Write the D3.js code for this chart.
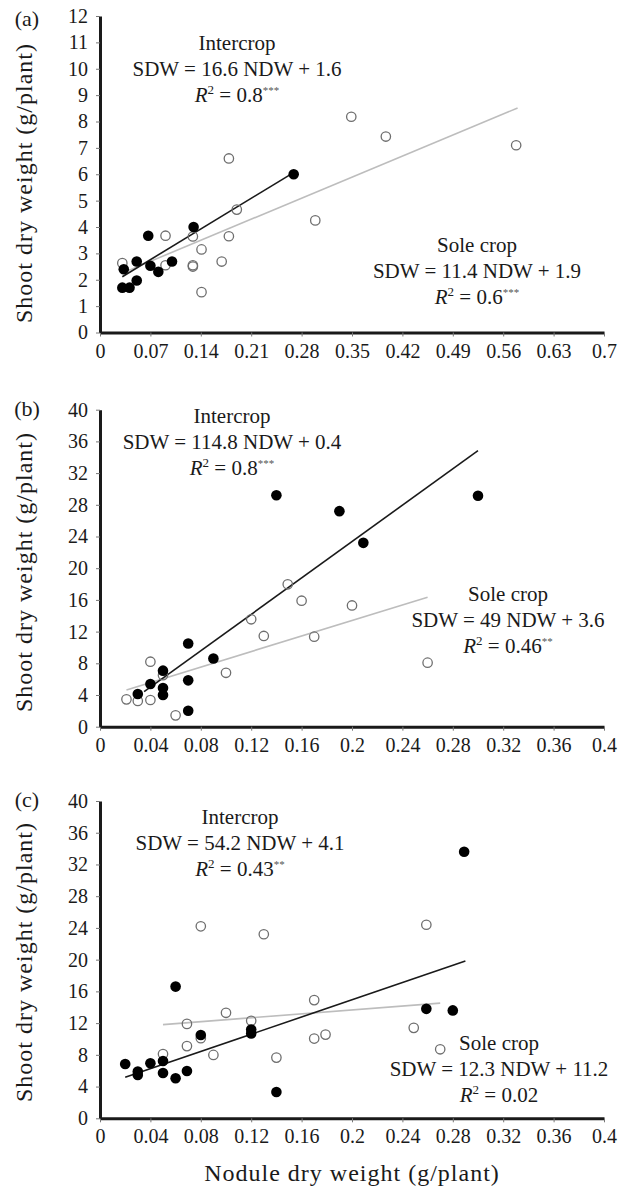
<!DOCTYPE html>
<html>
<head>
<meta charset="utf-8">
<script src="https://cdn.jsdelivr.net/npm/d3@7"></script>
<style>
  body { margin: 0; background: #fff; }
  svg { display: block; }
  text { font-family: "Liberation Serif", "Times New Roman", serif; fill: #1a1a1a; }
</style>
</head>
<body>
<div id="chart"></div>
<script>
const width = 624;
const height = 1189;

// panel (a): [NDW, SDW]
const interA = [[0.269, 6.0], [0.13, 4.0], [0.067, 3.67], [0.051, 2.69], [0.10, 2.69], [0.07, 2.53],
  [0.081, 2.30], [0.033, 2.40], [0.051, 1.97], [0.031, 1.70], [0.041, 1.70]];
const soleA = [[0.179, 6.6], [0.19, 4.66], [0.299, 4.25], [0.091, 3.67], [0.129, 3.64], [0.179, 3.65],
  [0.141, 3.15], [0.031, 2.63], [0.091, 2.55], [0.129, 2.55], [0.129, 2.5], [0.169, 2.69],
  [0.141, 1.53], [0.349, 8.18], [0.397, 7.43], [0.578, 7.1]];

// panel (b)
const interB = [[0.14, 29.2], [0.19, 27.2], [0.209, 23.2], [0.30, 29.15], [0.07, 10.5], [0.09, 8.6],
  [0.05, 7.07], [0.04, 5.39], [0.07, 5.85], [0.05, 4.88], [0.05, 4.0], [0.03, 4.13], [0.07, 2.02]];
const soleB = [[0.149, 17.97], [0.16, 15.9], [0.12, 13.55], [0.13, 11.45], [0.17, 11.36], [0.04, 8.2],
  [0.10, 6.8], [0.05, 6.5], [0.021, 3.45], [0.03, 3.24], [0.04, 3.37], [0.06, 1.43], [0.20, 15.3],
  [0.26, 8.08]];

// panel (c)
const interC = [[0.06, 16.6], [0.08, 10.5], [0.12, 11.2], [0.12, 10.7], [0.02, 6.85], [0.03, 5.9],
  [0.03, 5.46], [0.04, 6.94], [0.05, 7.23], [0.05, 5.72], [0.06, 5.05], [0.069, 5.97], [0.14, 3.32],
  [0.289, 33.6], [0.259, 13.8], [0.28, 13.6]];
const soleC = [[0.08, 24.2], [0.13, 23.2], [0.17, 14.9], [0.10, 13.3], [0.069, 11.9], [0.12, 12.3],
  [0.08, 10.1], [0.069, 9.1], [0.17, 10.05], [0.179, 10.55], [0.09, 7.99], [0.05, 8.1], [0.14, 7.65],
  [0.259, 24.4], [0.249, 11.4], [0.27, 8.7]];

// regression lines: [slope, intercept, xStart, xEnd]
const fitInter = [[16.6, 1.6, 0.031, 0.27], [114.8, 0.4, 0.035, 0.30], [54.2, 4.1, 0.02, 0.29]];
const fitSole = [[11.4, 1.9, 0.03, 0.58], [49, 3.6, 0.021, 0.26], [12.3, 11.2, 0.05, 0.27]];

// equation labels
const eqInter = ["SDW = 16.6 NDW + 1.6", "SDW = 114.8 NDW + 0.4", "SDW = 54.2 NDW + 4.1"];
const r2Inter = ["0.8", "0.8", "0.43"];
const starsInter = ["***", "***", "**"];
const eqSole = ["SDW = 11.4 NDW + 1.9", "SDW = 49 NDW + 3.6", "SDW = 12.3 NDW + 11.2"];
const r2Sole = ["0.6", "0.46", "0.02"];
const starsSole = ["***", "**", ""];

const panelLabels = ["(a)", "(b)", "(c)"];

// ticks
const xTicksA = [0, 0.07, 0.14, 0.21, 0.28, 0.35, 0.42, 0.49, 0.56, 0.63, 0.7];
const xTicksBC = [0, 0.04, 0.08, 0.12, 0.16, 0.2, 0.24, 0.28, 0.32, 0.36, 0.4];
const yTicksA = [0, 1, 2, 3, 4, 5, 6, 7, 8, 9, 10, 11, 12];
const yTicksBC = [0, 4, 8, 12, 16, 20, 24, 28, 32, 36, 40];

const panels = [
  { inter: interA, sole: soleA, xTicks: xTicksA, yTicks: yTicksA, top: 16, bottom: 332.5,
    interPos: [237, 49.5], solePos: [477, 252], labelY: 26, titleY: 183 },
  { inter: interB, sole: soleB, xTicks: xTicksBC, yTicks: yTicksBC, top: 409.7, bottom: 726.7,
    interPos: [232, 423], solePos: [508, 601], labelY: 416, titleY: 572 },
  { inter: interC, sole: soleC, xTicks: xTicksBC, yTicks: yTicksBC, top: 801, bottom: 1118.3,
    interPos: [240, 824], solePos: [499, 1050], labelY: 807, titleY: 962 }
];

const left = 100, right = 604;

const svg = d3.select("#chart")
  .append("svg")
  .attr("width", width)
  .attr("height", height);

function eqBlock(g, pos, title, eq, r2, stars) {
  const t = g.append("g").attr("text-anchor", "middle").attr("font-size", 21);
  t.append("text").attr("x", pos[0]).attr("y", pos[1]).text(title);
  t.append("text").attr("x", pos[0]).attr("y", pos[1] + 26).text(eq);
  const r = t.append("text").attr("x", pos[0]).attr("y", pos[1] + 52);
  r.append("tspan").attr("font-style", "italic").text("R");
  r.append("tspan").attr("font-size", 13).attr("dy", -8).text("2");
  r.append("tspan").attr("dy", 8).text(" = " + r2);
  if (stars) r.append("tspan").attr("font-size", 11).attr("dy", -8).attr("fill", "#555").text(stars);
}

panels.forEach((p, i) => {
  const g = svg.append("g");

  const x = d3.scaleLinear()
    .domain([0, d3.max(p.xTicks)])
    .range([left, right]);

  const y = d3.scaleLinear()
    .domain([0, d3.max(p.yTicks)])
    .range([p.bottom, p.top]);

  // X axis
  const xa = g.append("g")
    .attr("transform", `translate(0,${p.bottom})`)
    .call(d3.axisBottom(x).tickValues(p.xTicks).tickSize(4).tickSizeOuter(0).tickPadding(7)
      .tickFormat(d => String(d)));

  // Y axis
  const ya = g.append("g")
    .attr("transform", `translate(${left},0)`)
    .call(d3.axisLeft(y).tickValues(p.yTicks).tickSize(4).tickSizeOuter(0).tickPadding(8)
      .tickFormat(d => String(d)));

  [xa, ya].forEach(a => {
    a.select(".domain").attr("stroke", "#1a1a1a").attr("stroke-width", 3);
    a.selectAll(".tick line").attr("stroke", "#777").attr("stroke-width", 1);
    a.selectAll(".tick text")
      .attr("font-family", "Liberation Serif, serif")
      .attr("font-size", 20)
      .attr("fill", "#1a1a1a");
  });

  // regression lines
  const fs = fitSole[i];
  g.append("line")
    .attr("x1", x(fs[2])).attr("y1", y(fs[0] * fs[2] + fs[1]))
    .attr("x2", x(fs[3])).attr("y2", y(fs[0] * fs[3] + fs[1]))
    .attr("stroke", "#bdbdbd").attr("stroke-width", 1.6);
  const fi = fitInter[i];
  g.append("line")
    .attr("x1", x(fi[2])).attr("y1", y(fi[0] * fi[2] + fi[1]))
    .attr("x2", x(fi[3])).attr("y2", y(fi[0] * fi[3] + fi[1]))
    .attr("stroke", "#1a1a1a").attr("stroke-width", 1.6);

  // sole crop (open circles)
  g.selectAll(".sole")
    .data(p.sole)
    .enter()
    .append("circle")
    .attr("cx", d => x(d[0]))
    .attr("cy", d => y(d[1]))
    .attr("r", 4.7)
    .attr("fill", "none")
    .attr("stroke", "#6e6e6e")
    .attr("stroke-width", 1.3);

  // intercrop (filled)
  g.selectAll(".inter")
    .data(p.inter)
    .enter()
    .append("circle")
    .attr("cx", d => x(d[0]))
    .attr("cy", d => y(d[1]))
    .attr("r", 5.3)
    .attr("fill", "#000");

  // annotations
  eqBlock(g, p.interPos, "Intercrop", eqInter[i], r2Inter[i], starsInter[i]);
  eqBlock(g, p.solePos, "Sole crop", eqSole[i], r2Sole[i], starsSole[i]);

  // panel label
  g.append("text")
    .attr("x", 27).attr("y", p.labelY)
    .attr("text-anchor", "middle")
    .attr("font-size", 22)
    .text(panelLabels[i]);

  // Y axis label
  g.append("text")
    .attr("transform", `translate(32,${p.titleY}) rotate(-90)`)
    .attr("text-anchor", "middle")
    .attr("font-size", 24)
    .attr("letter-spacing", 1)
    .text("Shoot dry weight (g/plant)");
});

// X axis label
svg.append("text")
  .attr("x", 352)
  .attr("y", 1181)
  .attr("text-anchor", "middle")
  .attr("font-size", 24)
  .attr("letter-spacing", 1)
  .text("Nodule dry weight (g/plant)");
</script>
</body>
</html>
